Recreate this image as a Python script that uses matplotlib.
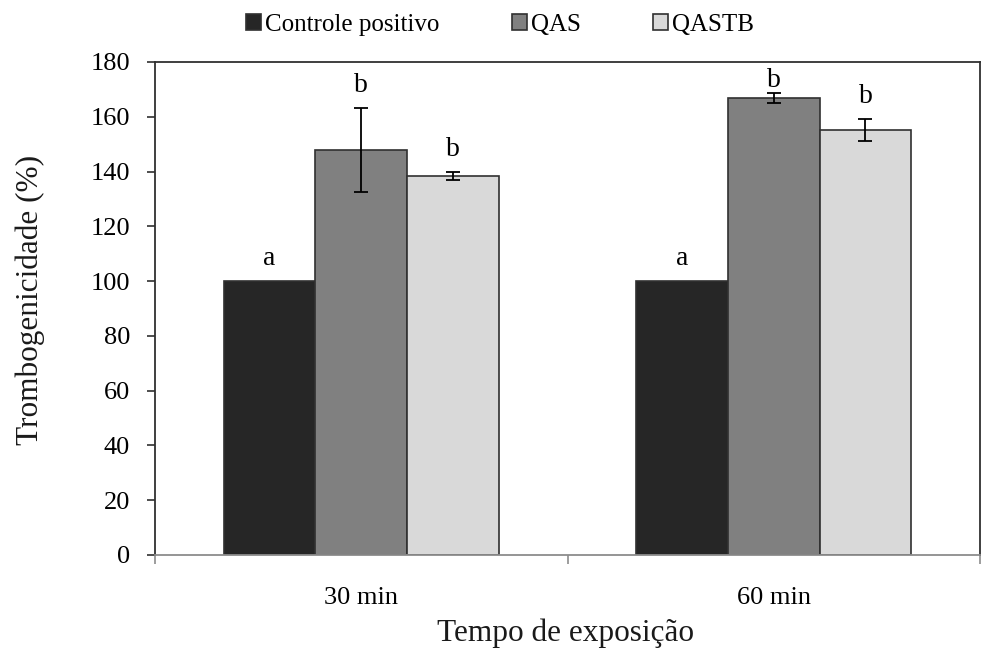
import numpy as np
import matplotlib.pyplot as plt

plt.rcParams['font.family'] = ['Liberation Serif', 'DejaVu Serif']

groups = ['30 min', '60 min']
series = ['Controle positivo', 'QAS', 'QASTB']
values = [[100, 100], [148, 166.7], [138.3, 155.1]]
errors = [[0, 0], [15.3, 1.8], [1.5, 4.0]]
letters = [['a', 'a'], ['b', 'b'], ['b', 'b']]
colors = ['#262626', '#808080', '#d9d9d9']

fig = plt.figure(figsize=(9.9, 6.51), dpi=100)
ax = fig.add_axes([0.1566, 0.1475, 0.8333, 0.7573])

x = np.arange(len(groups))
w = 1 / 4.5
ymax = 180
px_per_unit = 493 / ymax
for i, name in enumerate(series):
    pos = x + (i - 1) * w
    ax.bar(pos, values[i], w, color=colors[i], edgecolor='#303030', linewidth=1.2,
           label=name, zorder=2)
    if i > 0:
        ax.errorbar(pos, values[i], yerr=errors[i], fmt='none', ecolor='black',
                    elinewidth=1.3, capsize=5, capthick=1.3, zorder=3)
    for j in range(len(groups)):
        top = values[i][j] + errors[i][j]
        room = (ymax - top) * px_per_unit - 25
        off = min(16, room) * 0.72
        ax.annotate(letters[i][j], (pos[j], top), xytext=(0, off),
                    textcoords='offset points', ha='center', va='baseline', fontsize=20)

ax.set_ylim(0, ymax)
ax.set_xlim(-0.5, len(groups) - 0.5)
ax.set_yticks(np.arange(0, 181, 20))
ax.set_xticks(np.arange(-0.5, len(groups), 1))
ax.set_xticklabels([])
ax.set_xticks(x, minor=True)
ax.set_xticklabels(groups, minor=True)
ax.tick_params(axis='x', which='minor', length=0, pad=23, labelsize=19)
ax.tick_params(axis='x', which='major', length=6.5, color='#8c8c8c', width=1.2)
ax.tick_params(axis='y', length=6, width=1.2, color='#303030', labelsize=19, pad=12)

for s in ['top', 'right', 'left']:
    ax.spines[s].set_color('#303030')
    ax.spines[s].set_linewidth(1.3)
ax.spines['bottom'].set_color('#8c8c8c')
ax.spines['bottom'].set_linewidth(1.3)

ax.set_xlabel('Tempo de exposição', fontsize=22.5, color='#1a1a1a')
ax.set_ylabel('Trombogenicidade (%)', fontsize=22.5, color='#1a1a1a')
ax.xaxis.set_label_coords(0.497, -0.128)
ax.yaxis.set_label_coords(-0.133, 0.517)

fig.legend(loc='center', bbox_to_anchor=(0.505, 0.962), ncol=3, frameon=False,
           fontsize=18, handlelength=0.6, handleheight=0.6, handletextpad=0.15,
           columnspacing=2.9, borderpad=0)

fig.savefig('out.png', dpi=100)
